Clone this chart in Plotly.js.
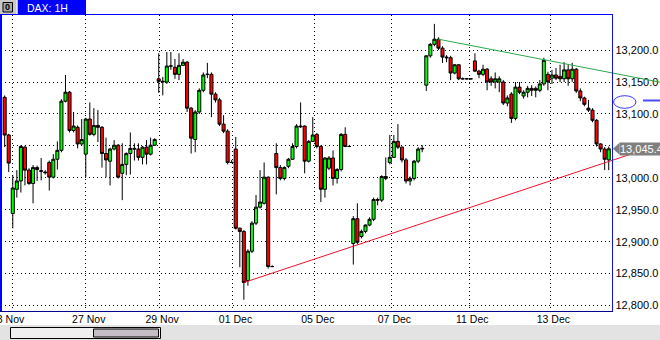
<!DOCTYPE html>
<html><head><meta charset="utf-8">
<script src="https://cdn.plot.ly/plotly-3.0.1.min.js"></script>
<style>html,body{margin:0;padding:0;background:#fff;overflow:hidden}#chart{width:660px;height:340px}</style>
</head><body><div id="chart"></div>
<script>
// ---- DATA: DAX 1H candles (bar order, oldest first) ----
const openArr = [
13126,13067,12944,12982,12995,13048,13012,12991,13016,13010,13009,13024,13001,13029,13043,13120,13134,13074,13079,13053,13037,13092,13068,13082,13079,13038,13026,13045,13051,13007,13021,13038,13046,13045,13032,13048,13037,13051,
13155,13150,13150,13175,13173,13162,13176,13181,13109,13060,13103,13137,13162,13162,13131,13122,13084,13073,13024,13045,12921,12916,12839,12885,12929,12954,12960,13001,12861,13038,13016,12999,13018,13029,13049,13081,13081,13026,13057,13068,13049,12982,13015,13031,12999,13013,13068,13049,
12897,12936,12908,12916,12926,12935,12966,12965,13002,13024,13032,13057,13048,13028,12995,12999,13026,13045,
13145,13191,13209,13217,13203,13189,13188,13164,13177,13155,13155,13155,13183,13167,13162,13170,13155,13150,13150,13150,13117,13131,13093,13142,13128,13134,13140,13140,13137,13147,13162,13156,13161,13159,13155,13169,13155,13170,13136,13125,13109,13106,13090,13053,13045,13028];
const highArr = [
13129,13069,13004,13012,13051,13050,13015,13020,13019,13031,13012,13027,13037,13057,13123,13161,13136,13103,13082,13092,13094,13118,13109,13106,13081,13063,13047,13059,13053,13054,13040,13071,13054,13054,13050,13059,13063,13062,
13195,13158,13197,13197,13186,13195,13186,13183,13111,13106,13140,13165,13180,13165,13134,13125,13098,13076,13028,13064,12922,12918,12888,12932,12973,13012,13024,13002,12863,13054,13020,13018,13031,13054,13084,13118,13082,13059,13095,13070,13051,13032,13034,13043,13015,13070,13079,13051,
12940,12960,12919,12927,12938,12969,12969,13004,13032,13067,13067,13084,13049,13031,13002,13028,13048,13051,
13192,13211,13241,13220,13206,13192,13191,13178,13178,13157,13156,13156,13195,13169,13177,13172,13159,13165,13159,13153,13129,13134,13150,13150,13137,13144,13145,13143,13153,13188,13166,13169,13172,13177,13181,13177,13180,13172,13140,13127,13122,13109,13092,13054,13048,13049];
const lowArr = [
13048,13009,12921,12969,12977,12988,12989,12960,12995,12996,13005,12980,12999,13013,13040,13118,13071,13071,13046,13050,13001,13066,13065,13056,13016,13001,12988,13043,12999,12965,13004,13005,13027,13027,13021,13021,13035,13050,
13133,13129,13147,13169,13155,13153,13175,13103,13038,13040,13100,13134,13156,13095,13118,13081,13070,13021,13023,12919,12860,12809,12831,12882,12926,12952,12958,12858,12860,12974,12996,12996,13015,13028,13046,13078,13007,13024,13056,13046,12962,12969,13012,12988,12991,13010,13048,13048,
12864,12896,12905,12913,12924,12932,12957,12962,12996,13021,13031,13045,13024,12991,12988,12996,13023,13040,
13136,13188,13206,13200,13180,13181,13153,13162,13153,13154,13154,13154,13166,13156,13159,13137,13144,13140,13134,13114,13112,13086,13090,13131,13124,13126,13128,13126,13134,13144,13137,13147,13153,13150,13150,13144,13150,13133,13120,13112,13103,13087,13049,13040,13012,13012];
const closeArr = [
13067,13023,12984,12995,13049,13012,12991,13016,13013,13011,13008,13001,13029,13043,13120,13134,13074,13081,13053,13060,13092,13068,13082,13079,13038,13028,13045,13051,13001,13021,13038,13046,13045,13032,13048,13037,13051,13060,
13151,13151,13175,13175,13162,13176,13181,13109,13062,13103,13137,13161,13162,13131,13122,13084,13073,13024,13024,12921,12916,12836,12885,12929,12954,12962,13001,12861,12861,13016,12999,13016,13029,13049,13081,13080,13026,13057,13067,13049,12982,13031,13031,12999,13013,13068,13049,13049,
12936,12899,12916,12926,12935,12966,12965,13002,12999,13032,13057,13048,13028,12995,12999,13026,13045,13046,
13191,13209,13217,13203,13189,13188,13164,13177,13155,13155,13155,13155,13167,13162,13170,13150,13150,13155,13155,13117,13125,13093,13142,13134,13134,13140,13137,13137,13147,13184,13150,13161,13156,13155,13169,13155,13170,13136,13125,13115,13106,13090,13053,13045,13029,13045.4];

// x-axis gridline positions (bar index) and their date labels
const gridBars   = [1.9, 20, 38.1, 56.2, 76.5, 95.4, 114.6, 134.6];
const gridLabels = ['', '27 Nov', '29 Nov', '01 Dec', '05 Dec', '07 Dec', '11 Dec', '13 Dec'];
const firstLabel = '23 Nov';
const firstLabelBar = 0.9;

// price axis ticks (13,050.0 sits under the current-price tag, so it is not shown)
const priceTicks  = [12800, 12850, 12900, 12950, 13000, 13050, 13100, 13150, 13200];
const priceLabels = ['12,800.0', '12,850.0', '12,900.0', '12,950.0', '13,000.0', '', '13,100.0', '13,150.0', '13,200.0'];

// trendlines (bar index, price)
const greenTrendX = [107, 163];
const greenTrendY = [13217, 13148];
const redTrendX = [59, 163];
const redTrendY = [12836, 13055];

// ---- LAYOUT CALIBRATION ----
const W = 660, H = 340;
const px = v => v / W;
const py = v => 1 - v / H;
const BAR0 = 4.67, STEP = 4.054;          // pixel of bar 0 centre, pixels per bar
const PL = 1, PR = 612.5, PT = 14.5, PB = 311;
const xRange  = [(PL - BAR0) / STEP, (PR - BAR0) / STEP];
const x2Range = [(0 - BAR0) / STEP, (W - BAR0) / STEP];
const yRange  = [12791.4, 13255.7];
const yDomain = [py(PB), py(PT)];
const FONT = 'Liberation Sans, Arial, sans-serif';

const barIdx = openArr.map((_, i) => i);
const lastClose = closeArr[closeArr.length - 1];
const fmt = new Intl.NumberFormat('en-US', {minimumFractionDigits: 1, maximumFractionDigits: 1});

const traces = [
  {
    type: 'candlestick', x: barIdx, open: openArr, high: highArr, low: lowArr, close: closeArr,
    xaxis: 'x', yaxis: 'y', whiskerwidth: 0,
    increasing: {fillcolor: '#00ff00', line: {color: '#000000', width: 1}},
    decreasing: {fillcolor: '#ff0000', line: {color: '#000000', width: 1}},
    showlegend: false, hoverinfo: 'skip'
  },
  {type: 'scatter', mode: 'lines', x: greenTrendX, y: greenTrendY, xaxis: 'x2', yaxis: 'y2',
   line: {color: '#2aa84a', width: 1}, showlegend: false, hoverinfo: 'skip'},
  {type: 'scatter', mode: 'lines', x: redTrendX, y: redTrendY, xaxis: 'x2', yaxis: 'y2',
   line: {color: '#f01030', width: 1}, showlegend: false, hoverinfo: 'skip'}
];

const shapes = [
  // bottom gray strip + scrollbar
  {type: 'rect', xref: 'paper', yref: 'paper', x0: 0, x1: 1, y0: 0, y1: py(325), fillcolor: '#e3e3e3', line: {width: 0}, layer: 'below'},
  {type: 'rect', xref: 'paper', yref: 'paper', x0: px(10.5), x1: px(160.5), y0: py(338.5), y1: py(327.5), fillcolor: '#efefef', line: {color: '#000', width: 1}},
  {type: 'rect', xref: 'paper', yref: 'paper', x0: px(93.5), x1: px(158.5), y0: py(337), y1: py(329), fillcolor: '#c6bec6', line: {color: '#000', width: 1}},
  // header
  {type: 'rect', xref: 'paper', yref: 'paper', x0: 0, x1: px(16.5), y0: py(14), y1: 1, fillcolor: '#c8c8c8', line: {width: 0}},
  {type: 'rect', xref: 'paper', yref: 'paper', x0: px(3), x1: px(12.5), y0: py(12), y1: py(2.5), fillcolor: '#a8a8a8', line: {color: '#000', width: 1}},
  {type: 'rect', xref: 'paper', yref: 'paper', x0: px(17.7), x1: px(86), y0: py(14), y1: 1, fillcolor: '#0000ff', line: {width: 0}},
  // plot frame
  {type: 'line', xref: 'paper', yref: 'paper', x0: 0, x1: px(613), y0: py(14.5), y1: py(14.5), line: {color: '#0000ff', width: 1}},
  {type: 'line', xref: 'paper', yref: 'paper', x0: px(1), x1: px(1), y0: py(14), y1: py(311.5), line: {color: '#0000ff', width: 2}},
  {type: 'line', xref: 'paper', yref: 'paper', x0: px(612.5), x1: px(612.5), y0: py(14), y1: py(311.5), line: {color: '#1010e8', width: 1}},
  {type: 'line', xref: 'paper', yref: 'paper', x0: 0, x1: px(613), y0: py(311.5), y1: py(311.5), line: {color: '#000090', width: 1}},
  // ellipse marker and dash on the price scale
  {type: 'circle', xref: 'paper', yref: 'paper', x0: px(613.5), x1: px(636), y0: py(108.3), y1: py(95.7), line: {color: '#3a3aff', width: 1}},
  {type: 'line', xref: 'paper', yref: 'paper', x0: px(643), x1: px(660), y0: py(100.5), y1: py(100.5), line: {color: '#4a4aff', width: 2}},
  // current price arrow
  {type: 'path', xref: 'paper', yref: 'y',
   path: `M ${px(613)},${lastClose} L ${px(619.5)},${lastClose + 9.5} L ${px(619.5)},${lastClose - 9.5} Z`,
   fillcolor: '#7f7f7f', line: {width: 0}}
];

const annotations = [
  {xref: 'paper', yref: 'paper', x: px(25), y: py(7.5), xanchor: 'left', yanchor: 'middle', showarrow: false,
   text: 'DAX: 1H', font: {family: FONT, size: 10.5, color: '#ffffff'}},
  {xref: 'paper', yref: 'paper', x: px(7.8), y: py(7.3), xanchor: 'center', yanchor: 'middle', showarrow: false,
   text: '<b>0</b>', font: {family: FONT, size: 9, color: '#000000'}},
  {xref: 'x', yref: 'paper', x: firstLabelBar, y: py(318.5), xanchor: 'center', yanchor: 'middle', showarrow: false,
   text: firstLabel, font: {family: FONT, size: 10.5, color: '#000'}},
  {xref: 'paper', yref: 'y', x: px(619), y: lastClose, xanchor: 'left', yanchor: 'middle', showarrow: false,
   text: fmt.format(lastClose), bgcolor: '#7f7f7f', borderpad: 0, font: {family: FONT, size: 11, color: '#ffffff'}}
];

const layout = {
  width: W, height: H, autosize: false,
  margin: {l: 0, r: 0, t: 0, b: 0, pad: 0},
  paper_bgcolor: '#ffffff', plot_bgcolor: 'rgba(0,0,0,0)',
  font: {family: FONT, size: 11, color: '#000'},
  showlegend: false,
  boxgap: 0, boxgroupgap: 0.25,
  xaxis: {
    domain: [px(PL), px(PR)], range: xRange, anchor: 'y',
    tickmode: 'array', tickvals: gridBars, ticktext: gridLabels,
    showgrid: true, gridcolor: '#000000', gridwidth: 1, griddash: '1px,3px',
    zeroline: false, showline: false, ticks: '', ticklabelshift: 3, ticklabelstandoff: 0,
    tickfont: {family: FONT, size: 10.5, color: '#000'},
    rangeslider: {visible: false}, fixedrange: true
  },
  yaxis: {
    domain: yDomain, range: yRange, anchor: 'x', side: 'right',
    tickmode: 'array', tickvals: priceTicks, ticktext: priceLabels,
    showgrid: true, gridcolor: '#000000', gridwidth: 1, griddash: '1px,3px',
    zeroline: false, showline: false, ticks: '', ticklabelstandoff: 2,
    tickfont: {family: FONT, size: 11, color: '#000'}, fixedrange: true
  },
  xaxis2: {domain: [0, 1], range: x2Range, anchor: 'y2', visible: false, fixedrange: true},
  yaxis2: {domain: yDomain, range: yRange, anchor: 'x2', visible: false, fixedrange: true},
  shapes: shapes,
  annotations: annotations
};

Plotly.newPlot('chart', traces, layout, {staticPlot: true, displayModeBar: false});
</script>
</body></html>
